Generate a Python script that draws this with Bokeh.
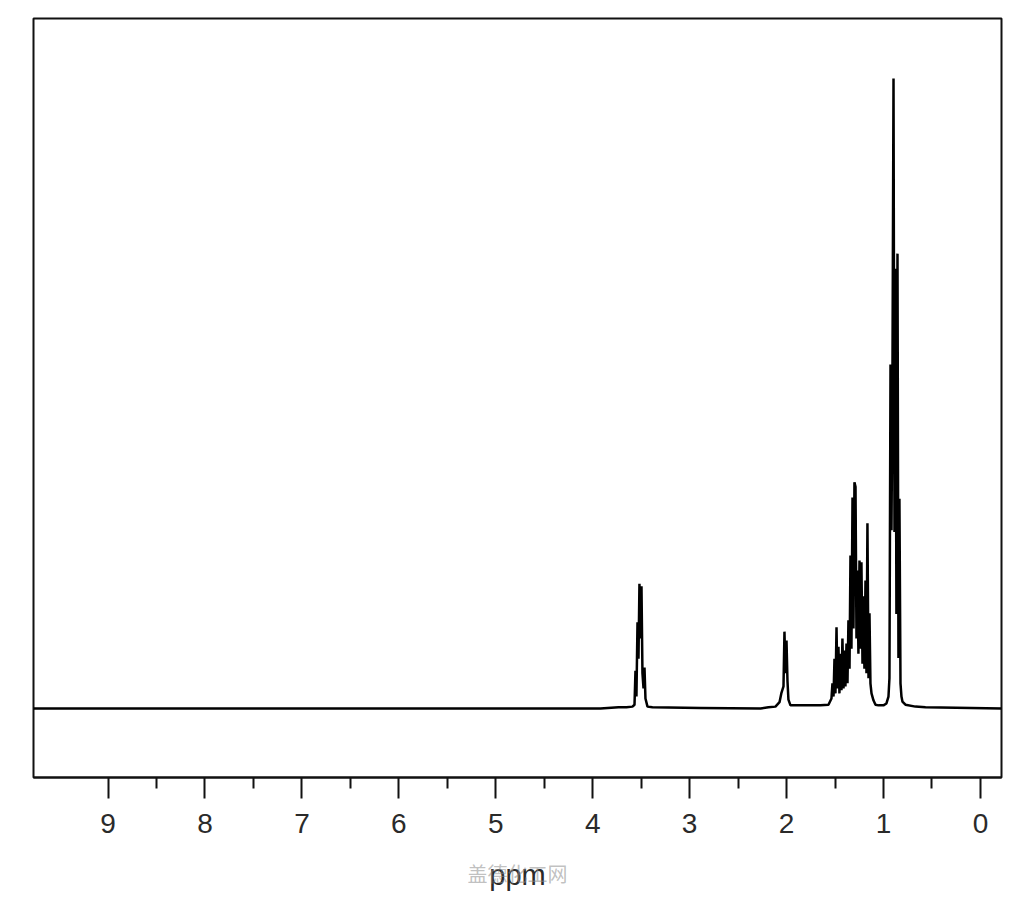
from bokeh.plotting import figure
from bokeh.models import Range1d, FixedTicker, LinearAxis
from bokeh.embed import file_html
from bokeh.resources import INLINE

# Chemical shift (ppm) and relative intensity (% of tallest line)
ppm = [9.769, 3.920, 3.734, 3.652, 3.590, 3.569, 3.559, 3.549, 3.538, 3.528,
       3.518, 3.507, 3.497, 3.487, 3.476, 3.466, 3.456, 3.435, 3.384, 2.888,
       2.269, 2.187, 2.115, 2.073, 2.053, 2.032, 2.022, 2.012, 2.001, 1.991,
       1.981, 1.960, 1.805, 1.754, 1.651, 1.568, 1.537, 1.527, 1.516, 1.506,
       1.496, 1.485, 1.475, 1.465, 1.455, 1.444, 1.434, 1.424, 1.413, 1.403,
       1.393, 1.382, 1.372, 1.362, 1.351, 1.341, 1.331, 1.320, 1.310, 1.300,
       1.289, 1.279, 1.269, 1.259, 1.248, 1.238, 1.228, 1.217, 1.207, 1.197,
       1.186, 1.176, 1.166, 1.155, 1.145, 1.135, 1.124, 1.104, 1.083, 1.052,
       1.001, 0.970, 0.949, 0.939, 0.928, 0.918, 0.908, 0.897, 0.887, 0.877,
       0.867, 0.856, 0.846, 0.836, 0.825, 0.815, 0.805, 0.774, 0.671, 0.567,
       -0.217]
intensity = [0.0, 0.0, 0.2, 0.2, 0.3, 0.6, 6.0, 1.9, 13.7, 7.9,
             19.8, 11.1, 19.4, 5.6, 3.2, 6.5, 1.6, 0.3, 0.2, 0.1,
             0.0, 0.2, 0.3, 1.0, 2.5, 3.5, 12.2, 5.6, 10.8, 4.4,
             1.4, 0.5, 0.5, 0.5, 0.5, 0.6, 1.6, 4.0, 1.9, 7.9,
             2.4, 12.9, 3.2, 9.8, 2.4, 8.7, 2.9, 11.1, 3.2, 9.2,
             3.5, 10.3, 4.0, 14.0, 6.3, 24.3, 9.5, 33.5, 12.7, 35.9,
             35.2, 11.1, 21.9, 8.7, 23.5, 9.5, 23.2, 7.1, 17.8, 6.3,
             20.3, 5.6, 29.4, 4.8, 15.1, 4.0, 2.4, 1.3, 0.6, 0.5,
             0.5, 0.8, 1.9, 4.8, 54.6, 28.3, 52.4, 100.0, 28.0, 69.8,
             15.0, 72.2, 8.0, 33.3, 4.0, 1.9, 1.1, 0.6, 0.3, 0.2,
             0.0]

major_ticks = [0, 1, 2, 3, 4, 5, 6, 7, 8, 9]
minor_ticks = [0.5, 1.5, 2.5, 3.5, 4.5, 5.5, 6.5, 7.5, 8.5]
axis_title = "ppm"
watermark = "盖德化工网"

p = figure(width=1016, height=893,
           x_range=Range1d(9.769, -0.217), y_range=Range1d(-10.95, 109.52),
           y_axis_location=None,
           output_backend="svg", toolbar_location=None,
           min_border_left=33, min_border_right=15,
           min_border_top=18, min_border_bottom=116)

p.grid.visible = False
p.background_fill_color = "white"
p.border_fill_color = "white"
p.outline_line_color = "#111111"
p.outline_line_width = 2

p.line(ppm, intensity, line_color="black", line_width=2.5)

ax = p.xaxis[0]
ax.ticker = FixedTicker(ticks=major_ticks, minor_ticks=minor_ticks)
ax.axis_line_color = "#111111"
ax.axis_line_width = 2
ax.major_tick_in = 0
ax.major_tick_out = 21
ax.minor_tick_in = 0
ax.minor_tick_out = 11
ax.major_tick_line_width = 2
ax.minor_tick_line_width = 2
ax.major_tick_line_color = "#111111"
ax.minor_tick_line_color = "#111111"
ax.major_label_text_font = "Liberation Sans"
ax.major_label_text_font_size = "28px"
ax.major_label_text_color = "#2a2a2a"
ax.major_label_standoff = 15
ax.axis_label = axis_title
ax.axis_label_text_font = "Liberation Sans"
ax.axis_label_text_font_size = "29px"
ax.axis_label_text_font_style = "normal"
ax.axis_label_text_color = "#2a2a2a"
ax.axis_label_standoff = 23

# faint site watermark that sits over the axis title
wm_axis = LinearAxis(ticker=FixedTicker(ticks=[]), axis_line_color=None,
                     major_tick_line_color=None, minor_tick_line_color=None,
                     major_tick_out=0, minor_tick_out=0, major_label_standoff=0,
                     axis_label=watermark, axis_label_standoff=-35,
                     axis_label_text_font="Noto Sans CJK SC",
                     axis_label_text_font_style="normal",
                     axis_label_text_font_size="20px",
                     axis_label_text_color="#8c8c8c",
                     axis_label_text_alpha=0.55)
p.add_layout(wm_axis, "below")

open("out.html", "w").write(file_html(p, INLINE))
